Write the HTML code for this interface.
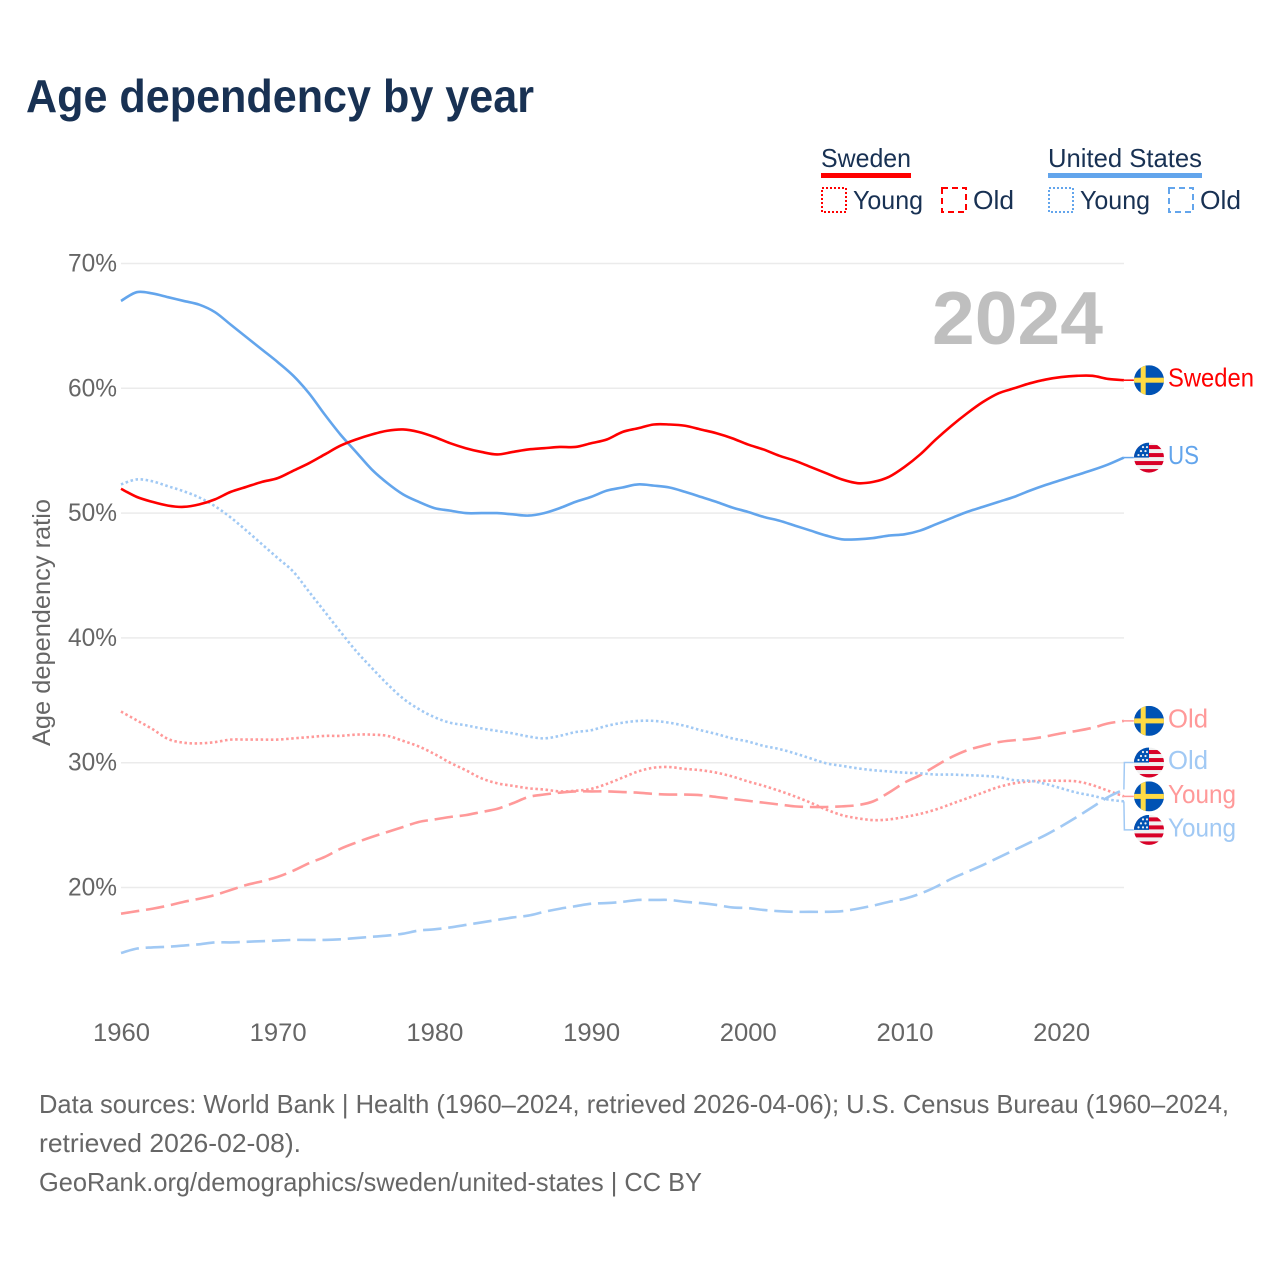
<!DOCTYPE html>
<html lang="en">
<head>
<meta charset="utf-8">
<title>Age dependency by year</title>
<style>
html,body{margin:0;padding:0;background:#fff;}
svg{display:block;font-family:"Liberation Sans",sans-serif;}
</style>
</head>
<body>
<svg id="chart" xmlns="http://www.w3.org/2000/svg" width="1280" height="1280" viewBox="0 0 1280 1280">
  <defs>
    <clipPath id="flag-clip"><circle cx="0" cy="0" r="15"/></clipPath>
    <g id="flag-se" clip-path="url(#flag-clip)">
      <rect x="-15" y="-15" width="30" height="30" fill="#0052B4"/>
      <rect x="-8.3" y="-15" width="5" height="30" fill="#FFDA44"/>
      <rect x="-15" y="-2.5" width="30" height="5" fill="#FFDA44"/>
    </g>
    <g id="flag-us" clip-path="url(#flag-clip)">
      <rect x="-15" y="-15" width="30" height="30" fill="#F0F0F0"/>
      <rect x="-15" y="-12.5" width="30" height="4" fill="#D80027"/>
      <rect x="-15" y="-4.5" width="30" height="4" fill="#D80027"/>
      <rect x="-15" y="3.5" width="30" height="4" fill="#D80027"/>
      <rect x="-15" y="11.5" width="30" height="4" fill="#D80027"/>
      <rect x="-15" y="-15" width="15" height="15" fill="#0052B4"/>
      <g fill="#F0F0F0">
        <circle cx="-10.5" cy="-2.5" r="1.1"/><circle cx="-6" cy="-2.5" r="1.1"/><circle cx="-2" cy="-2.5" r="1.1"/>
        <circle cx="-8" cy="-6.5" r="1.1"/><circle cx="-3.5" cy="-6.5" r="1.1"/>
        <circle cx="-6" cy="-10.5" r="1.1"/><circle cx="-2" cy="-10.5" r="1.1"/>
      </g>
    </g>
  </defs>

  <text x="26" y="112" font-size="46" font-weight="700" fill="#183153" textLength="508" lengthAdjust="spacingAndGlyphs">Age dependency by year</text>

  <g>
    <text x="821" y="167" font-size="26" fill="#183153" textLength="90" lengthAdjust="spacingAndGlyphs">Sweden</text>
    <rect x="821" y="173" width="90" height="5" fill="#FF0000"/>
    <rect x="822" y="188" width="24" height="24" fill="none" stroke="#FF0000" stroke-width="2" stroke-dasharray="2 2"/>
    <text x="853" y="209" font-size="26" fill="#183153" textLength="70" lengthAdjust="spacingAndGlyphs">Young</text>
    <rect x="942" y="188" width="24" height="24" fill="none" stroke="#FF0000" stroke-width="2" stroke-dasharray="6 4"/>
    <text x="973" y="209" font-size="26" fill="#183153" textLength="41" lengthAdjust="spacingAndGlyphs">Old</text>

    <text x="1048" y="167" font-size="26" fill="#183153" textLength="154" lengthAdjust="spacingAndGlyphs">United States</text>
    <rect x="1048" y="173" width="154" height="5" fill="#63A5EC"/>
    <rect x="1049" y="188" width="24" height="24" fill="none" stroke="#63A5EC" stroke-width="2" stroke-dasharray="2 2"/>
    <text x="1080" y="209" font-size="26" fill="#183153" textLength="70" lengthAdjust="spacingAndGlyphs">Young</text>
    <rect x="1169" y="188" width="24" height="24" fill="none" stroke="#63A5EC" stroke-width="2" stroke-dasharray="6 4"/>
    <text x="1200" y="209" font-size="26" fill="#183153" textLength="41" lengthAdjust="spacingAndGlyphs">Old</text>
  </g>

  <text transform="translate(50,622.5) rotate(-90)" text-anchor="middle" font-size="25" fill="#666666" textLength="247" lengthAdjust="spacingAndGlyphs">Age dependency ratio</text>

  <g id="grid"></g>
  <g id="y-ticks"></g>
  <g id="x-ticks"></g>

  <text x="932" y="344" font-size="75" font-weight="700" fill="#BFBFBF" textLength="171" lengthAdjust="spacingAndGlyphs">2024</text>

  <g id="lines"></g>
  <g id="connectors"></g>
  <g id="end-labels"></g>

  <g font-size="26" fill="#666666">
    <text x="39" y="1113" textLength="1190" lengthAdjust="spacingAndGlyphs">Data sources: World Bank | Health (1960–2024, retrieved 2026-04-06); U.S. Census Bureau (1960–2024,</text>
    <text x="39" y="1152" textLength="262" lengthAdjust="spacingAndGlyphs">retrieved 2026-02-08).</text>
    <text x="39" y="1191" textLength="663" lengthAdjust="spacingAndGlyphs">GeoRank.org/demographics/sweden/united-states | CC BY</text>
  </g>
</svg>

<script>
var firstYear = 1960;
var yTickValues = [20, 30, 40, 50, 60, 70];
var yTickLabels = ["20%", "30%", "40%", "50%", "60%", "70%"];
var xTickValues = [1960, 1970, 1980, 1990, 2000, 2010, 2020];
var xTickLabels = ["1960", "1970", "1980", "1990", "2000", "2010", "2020"];

var swedenTotal = [
  51.95,51.3,50.9,50.6,50.5,50.7,51.1,51.7,52.1,52.5,
  52.8,53.4,54.0,54.7,55.4,55.9,56.3,56.6,56.7,56.5,
  56.1,55.6,55.2,54.9,54.7,54.9,55.1,55.2,55.3,55.3,
  55.6,55.9,56.5,56.8,57.1,57.1,57.0,56.7,56.4,56.0,
  55.5,55.1,54.6,54.2,53.7,53.2,52.7,52.4,52.5,52.9,
  53.7,54.7,55.9,57.0,58.0,58.9,59.6,60.0,60.4,60.7,
  60.9,61.0,61.0,60.75,60.65
];
var usTotal = [
  67.0,67.7,67.6,67.3,67.0,66.7,66.1,65.1,64.1,63.1,
  62.1,61.0,59.6,57.9,56.3,54.9,53.5,52.4,51.5,50.9,
  50.4,50.2,50.0,50.0,50.0,49.9,49.8,50.0,50.4,50.9,
  51.3,51.8,52.05,52.3,52.2,52.05,51.7,51.3,50.9,50.45,
  50.1,49.7,49.4,49.0,48.6,48.2,47.9,47.9,48.0,48.2,
  48.3,48.6,49.1,49.6,50.1,50.5,50.9,51.3,51.8,52.25,
  52.65,53.05,53.45,53.9,54.45
];
var swedenYoung = [
  34.1,33.4,32.7,31.9,31.6,31.55,31.65,31.85,31.85,31.85,
  31.85,31.95,32.05,32.15,32.15,32.25,32.25,32.15,31.75,31.3,
  30.7,30.0,29.4,28.75,28.35,28.15,27.95,27.85,27.7,27.75,
  27.9,28.3,28.8,29.3,29.6,29.65,29.5,29.4,29.2,28.9,
  28.5,28.15,27.75,27.3,26.8,26.25,25.8,25.55,25.4,25.45,
  25.65,25.9,26.25,26.7,27.15,27.6,28.05,28.35,28.5,28.55,
  28.55,28.5,28.2,27.75,27.3
];
var swedenOld = [
  17.9,18.1,18.3,18.55,18.85,19.1,19.4,19.8,20.2,20.5,
  20.85,21.35,21.95,22.45,23.1,23.6,24.05,24.45,24.85,25.25,
  25.45,25.65,25.8,26.05,26.3,26.75,27.25,27.45,27.6,27.7,
  27.7,27.7,27.65,27.6,27.5,27.45,27.45,27.4,27.25,27.1,
  26.95,26.8,26.65,26.5,26.45,26.45,26.5,26.6,26.9,27.6,
  28.4,29.0,29.75,30.45,31.0,31.35,31.65,31.8,31.9,32.1,
  32.35,32.55,32.8,33.15,33.35
];
var usYoung = [
  52.3,52.7,52.55,52.15,51.75,51.25,50.55,49.65,48.6,47.5,
  46.4,45.3,43.7,42.1,40.5,38.95,37.6,36.3,35.15,34.3,
  33.65,33.2,33.0,32.75,32.55,32.35,32.1,31.95,32.15,32.45,
  32.6,32.95,33.2,33.35,33.35,33.2,32.95,32.6,32.3,31.95,
  31.7,31.35,31.1,30.75,30.35,29.95,29.75,29.55,29.4,29.3,
  29.2,29.15,29.05,29.05,29.0,28.95,28.85,28.6,28.55,28.3,
  27.95,27.6,27.35,27.05,26.9
];
var usOld = [
  14.75,15.1,15.2,15.25,15.35,15.45,15.6,15.6,15.65,15.7,
  15.75,15.8,15.8,15.8,15.85,15.95,16.05,16.15,16.3,16.55,
  16.65,16.8,17.0,17.2,17.4,17.6,17.75,18.05,18.3,18.5,
  18.7,18.75,18.85,19.0,19.0,19.0,18.85,18.75,18.6,18.4,
  18.35,18.2,18.1,18.05,18.05,18.05,18.1,18.3,18.55,18.85,
  19.1,19.5,20.05,20.7,21.25,21.8,22.4,23.0,23.6,24.2,
  24.9,25.65,26.45,27.25,27.85
];

var SVG_NS = "http://www.w3.org/2000/svg";
var RED = "#FF0000", BLUE = "#63A5EC", LIGHT_RED = "#FF9999", LIGHT_BLUE = "#A1C9F4";

function xScale(year) { return 121 + (year - 1960) * 15.67; }
function yScale(value) { return 887.5 - (value - 20) * 12.48; }

function make(tag, attrs, parent) {
  var el = document.createElementNS(SVG_NS, tag);
  for (var k in attrs) { el.setAttribute(k, attrs[k]); }
  parent.appendChild(el);
  return el;
}

/* gridlines and axis ticks */
var gridGroup = document.getElementById("grid");
var yGroup = document.getElementById("y-ticks");
var xGroup = document.getElementById("x-ticks");

yTickValues.forEach(function (v, i) {
  var line = make("line", { x1: 121, x2: 1124, y1: yScale(v), y2: yScale(v), stroke: "#EBEBEB", "stroke-width": 1.5 }, gridGroup);
  
  
  var t = make("text", { x: 68, y: yScale(v) + 8, "font-size": 25, fill: "#666666", textLength: 49, lengthAdjust: "spacingAndGlyphs" }, yGroup);
  t.textContent = yTickLabels[i];
  
  
});

xTickValues.forEach(function (yr, i) {
  var t = make("text", { x: xScale(yr) - 28, y: 1041, "font-size": 25, fill: "#666666", textLength: 57, lengthAdjust: "spacingAndGlyphs" }, xGroup);
  t.textContent = xTickLabels[i];
  
  
});

/* series lines: smooth curve through the yearly values */
function pathFor(values) {
  var pts = values.map(function (v, i) { return [xScale(firstYear + i), yScale(v)]; });
  var d = "M" + pts[0][0].toFixed(2) + "," + pts[0][1].toFixed(2);
  for (var i = 0; i < pts.length - 1; i++) {
    var p0 = pts[Math.max(i - 1, 0)], p1 = pts[i], p2 = pts[i + 1], p3 = pts[Math.min(i + 2, pts.length - 1)];
    var c1x = p1[0] + (p2[0] - p0[0]) / 6, c1y = p1[1] + (p2[1] - p0[1]) / 6;
    var c2x = p2[0] - (p3[0] - p1[0]) / 6, c2y = p2[1] - (p3[1] - p1[1]) / 6;
    d += "C" + c1x.toFixed(2) + "," + c1y.toFixed(2) + " " + c2x.toFixed(2) + "," + c2y.toFixed(2) + " " + p2[0].toFixed(2) + "," + p2[1].toFixed(2);
  }
  return d;
}

var lineGroup = document.getElementById("lines");
var DOTTED = "2.5 2.6";
var DASHED = "18.5 6.8";

function drawLine(values, color, dash, name) {
  var attrs = { d: pathFor(values), fill: "none", stroke: color, "stroke-width": 2.6, "stroke-linejoin": "round" };
  if (dash) { attrs["stroke-dasharray"] = dash; }
  var el = make("path", attrs, lineGroup);
  
  
}

drawLine(swedenYoung, LIGHT_RED, DOTTED, "sweden-young-line");
drawLine(swedenOld, LIGHT_RED, DASHED, "sweden-old-line");
drawLine(usYoung, LIGHT_BLUE, DOTTED, "us-young-line");
drawLine(usOld, LIGHT_BLUE, DASHED, "us-old-line");
drawLine(usTotal, BLUE, null, "us-total-line");
drawLine(swedenTotal, RED, null, "sweden-total-line");

/* connectors from line ends to the end labels */
var endX = xScale(2024);
var connectorGroup = document.getElementById("connectors");
var labelGroup = document.getElementById("end-labels");

function lastOf(values) { return values[values.length - 1]; }

function drawEnd(values, offset, flag, text, color, width, name) {
  var yEnd = yScale(lastOf(values));
  var yLabel = yEnd + offset;
  var connector = make("polyline", {
    points: endX + "," + yEnd + " " + (endX + 0.5) + "," + yLabel + " " + (endX + 10) + "," + yLabel,
    fill: "none", stroke: color, "stroke-width": 1.5
  }, connectorGroup);
  
  

  var flagUse = make("use", { href: "#" + flag, transform: "translate(1149," + yLabel + ")" }, labelGroup);
  
  

  var label = make("text", { x: 1168, y: yLabel + 6.5, "font-size": 26, fill: color, textLength: width, lengthAdjust: "spacingAndGlyphs" }, labelGroup);
  label.textContent = text;
  
  
}

drawEnd(swedenTotal, 0, "flag-se", "Sweden", RED, 86, "sweden-total-end");
drawEnd(usTotal, 0, "flag-us", "US", BLUE, 31, "us-total-end");
drawEnd(swedenOld, 0, "flag-se", "Old", LIGHT_RED, 40, "sweden-old-end");
drawEnd(usOld, -27, "flag-us", "Old", LIGHT_BLUE, 40, "us-old-end");
drawEnd(swedenYoung, 0, "flag-se", "Young", LIGHT_RED, 68, "sweden-young-end");
drawEnd(usYoung, 28.5, "flag-us", "Young", LIGHT_BLUE, 68, "us-young-end");
</script>
</body>
</html>
